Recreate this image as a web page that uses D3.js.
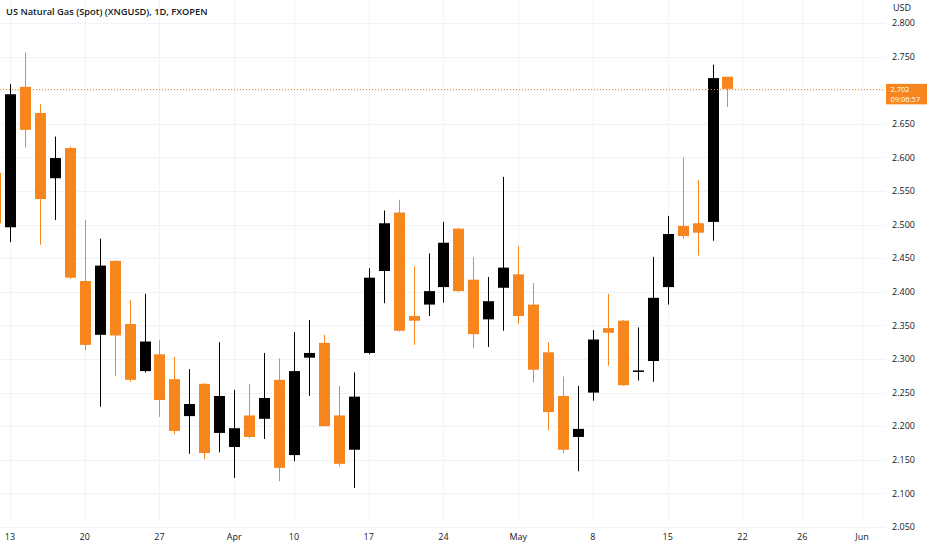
<!DOCTYPE html>
<html>
<head>
<meta charset="utf-8">
<script src="https://cdn.jsdelivr.net/npm/d3@7"></script>
<style>
  body { margin: 0; background: #fff; }
  text { font-family: "Open Sans", sans-serif; fill: #131722; }
</style>
</head>
<body>
<script>
// trading days, index -1 = Mar 10
const dates = ["03-10",
  "03-13","03-14","03-15","03-16","03-17","03-20","03-21","03-22","03-23","03-24",
  "03-27","03-28","03-29","03-30","03-31","04-03","04-04","04-05","04-06",
  "04-10","04-11","04-12","04-13","04-14","04-17","04-18","04-19","04-20","04-21",
  "04-24","04-25","04-26","04-27","04-28","05-01","05-02","05-03","05-04","05-05",
  "05-08","05-09","05-10","05-11","05-12","05-15","05-16","05-17","05-18","05-19"];

const open  = [2.577, 2.496,2.705,2.666,2.569,2.614,2.416,2.336,2.446,2.352,2.282,
  2.307,2.270,2.215,2.263,2.190,2.169,2.216,2.211,2.269,2.157,2.302,2.324,2.216,2.165,
  2.309,2.431,2.518,2.364,2.381,2.407,2.494,2.418,2.359,2.406,2.426,2.381,2.310,2.245,
  2.184,2.250,2.346,2.357,2.282,2.297,2.407,2.498,2.502,2.504,2.720];
const high  = [2.590, 2.709,2.756,2.679,2.631,2.616,2.507,2.479,2.447,2.388,2.397,
  2.328,2.303,2.285,2.264,2.325,2.254,2.263,2.309,2.301,2.340,2.358,2.336,2.260,2.280,
  2.435,2.521,2.537,2.438,2.457,2.504,2.495,2.452,2.422,2.571,2.468,2.413,2.325,2.274,
  2.260,2.343,2.397,2.358,2.347,2.452,2.513,2.600,2.567,2.738,2.720];
const low   = [2.490, 2.474,2.615,2.470,2.507,2.419,2.313,2.229,2.275,2.266,2.280,
  2.214,2.188,2.159,2.151,2.161,2.123,2.182,2.181,2.118,2.148,2.245,2.200,2.140,2.108,
  2.307,2.383,2.341,2.321,2.364,2.384,2.400,2.316,2.318,2.342,2.352,2.265,2.194,2.160,
  2.133,2.238,2.290,2.260,2.268,2.266,2.381,2.479,2.454,2.476,2.675];
const close = [2.502, 2.694,2.641,2.538,2.599,2.421,2.321,2.439,2.335,2.269,2.326,
  2.239,2.193,2.233,2.160,2.245,2.197,2.184,2.242,2.138,2.282,2.309,2.200,2.144,2.244,
  2.421,2.502,2.342,2.357,2.401,2.473,2.401,2.337,2.386,2.436,2.364,2.284,2.221,2.165,
  2.196,2.329,2.339,2.261,2.283,2.391,2.486,2.483,2.488,2.718,2.702];

// date axis labels at trading-day index
const xLabels = ["13","20","27","Apr","10","17","24","May","8","15","22","26","Jun"];
const xLabelIdx = [0, 5, 10, 15, 19, 24, 29, 34, 39, 44, 49, 53, 57];

const yTicks = d3.range(2.05, 2.8001, 0.05);
const lastPrice = 2.702;
const lastTime = "09:06:57";

const width = 932, height = 550;
const plotRight = 885, plotBottom = 522;
const up = "#000000", down = "#f7861e";

const x = d3.scaleLinear().domain([0, 57]).range([10, 862]);
const y = d3.scaleLinear().domain([2.05, 2.80]).range([527, 23]);

const svg = d3.select("body").append("svg")
  .attr("width", width)
  .attr("height", height);

// grid
svg.append("g").selectAll("line")
  .data(xLabelIdx)
  .enter().append("line")
  .attr("x1", d => Math.round(x(d)) + 0.5).attr("x2", d => Math.round(x(d)) + 0.5)
  .attr("y1", 0).attr("y2", plotBottom)
  .attr("stroke", "#f0f3fa");

svg.append("g").selectAll("line")
  .data(yTicks)
  .enter().append("line")
  .attr("x1", 0).attr("x2", plotRight)
  .attr("y1", d => Math.round(y(d)) + 0.5).attr("y2", d => Math.round(y(d)) + 0.5)
  .attr("stroke", "#f0f3fa");

// candles
const candles = dates.map((d, i) => ({
  i: i - 1, o: open[i], h: high[i], l: low[i], c: close[i]
}));
const color = d => d.c >= d.o ? up : down;
const bw = 11;

const g = svg.append("g");
g.selectAll(".wick")
  .data(candles)
  .enter().append("line")
  .attr("class", "wick")
  .attr("x1", d => Math.round(x(d.i)) + 0.5)
  .attr("x2", d => Math.round(x(d.i)) + 0.5)
  .attr("y1", d => y(d.h))
  .attr("y2", d => y(d.l))
  .attr("stroke", color)
  .attr("stroke-width", 1);

g.selectAll(".body")
  .data(candles)
  .enter().append("rect")
  .attr("class", "body")
  .attr("x", d => Math.round(x(d.i)) - (bw - 1) / 2)
  .attr("width", bw)
  .attr("y", d => y(Math.max(d.o, d.c)))
  .attr("height", d => Math.max(1.5, Math.abs(y(d.o) - y(d.c))))
  .attr("fill", color);

// last price line
svg.append("line")
  .attr("x1", 0).attr("x2", plotRight)
  .attr("y1", Math.round(y(lastPrice)) + 0.5).attr("y2", Math.round(y(lastPrice)) + 0.5)
  .attr("stroke", down)
  .attr("stroke-dasharray", "1,2");

// price axis
const yAxis = svg.append("g");
yAxis.selectAll("text")
  .data(yTicks)
  .enter().append("text")
  .attr("x", 892)
  .attr("y", d => y(d))
  .attr("dy", "0.35em")
  .attr("font-size", 9)
  .text(d => d3.format(".3f")(d));

svg.append("text")
  .attr("x", 893).attr("y", 11)
  .attr("font-size", 9)
  .text("USD");

// last price label
const ly = y(lastPrice);
svg.append("rect")
  .attr("x", 886).attr("y", ly - 5)
  .attr("width", 41).attr("height", 20.5)
  .attr("fill", down);
svg.append("text")
  .attr("x", 890.5).attr("y", ly + 0.5).attr("dy", "0.35em")
  .attr("font-size", 7.5)
  .style("fill", "#fff")
  .text(d3.format(".3f")(lastPrice));
svg.append("text")
  .attr("x", 890.5).attr("y", ly + 10.5).attr("dy", "0.35em")
  .attr("font-size", 7.5)
  .style("fill", "#fff")
  .text(lastTime);

// date axis
svg.append("g").selectAll("text")
  .data(xLabels)
  .enter().append("text")
  .attr("x", (d, i) => x(xLabelIdx[i]))
  .attr("y", 540)
  .attr("text-anchor", "middle")
  .attr("font-size", 9)
  .text(d => d);

// title
svg.append("text")
  .attr("x", 6).attr("y", 15)
  .attr("font-size", 9.3)
  .attr("font-weight", 600)
  .text("US Natural Gas (Spot) (XNGUSD), 1D, FXOPEN");
</script>
</body>
</html>
